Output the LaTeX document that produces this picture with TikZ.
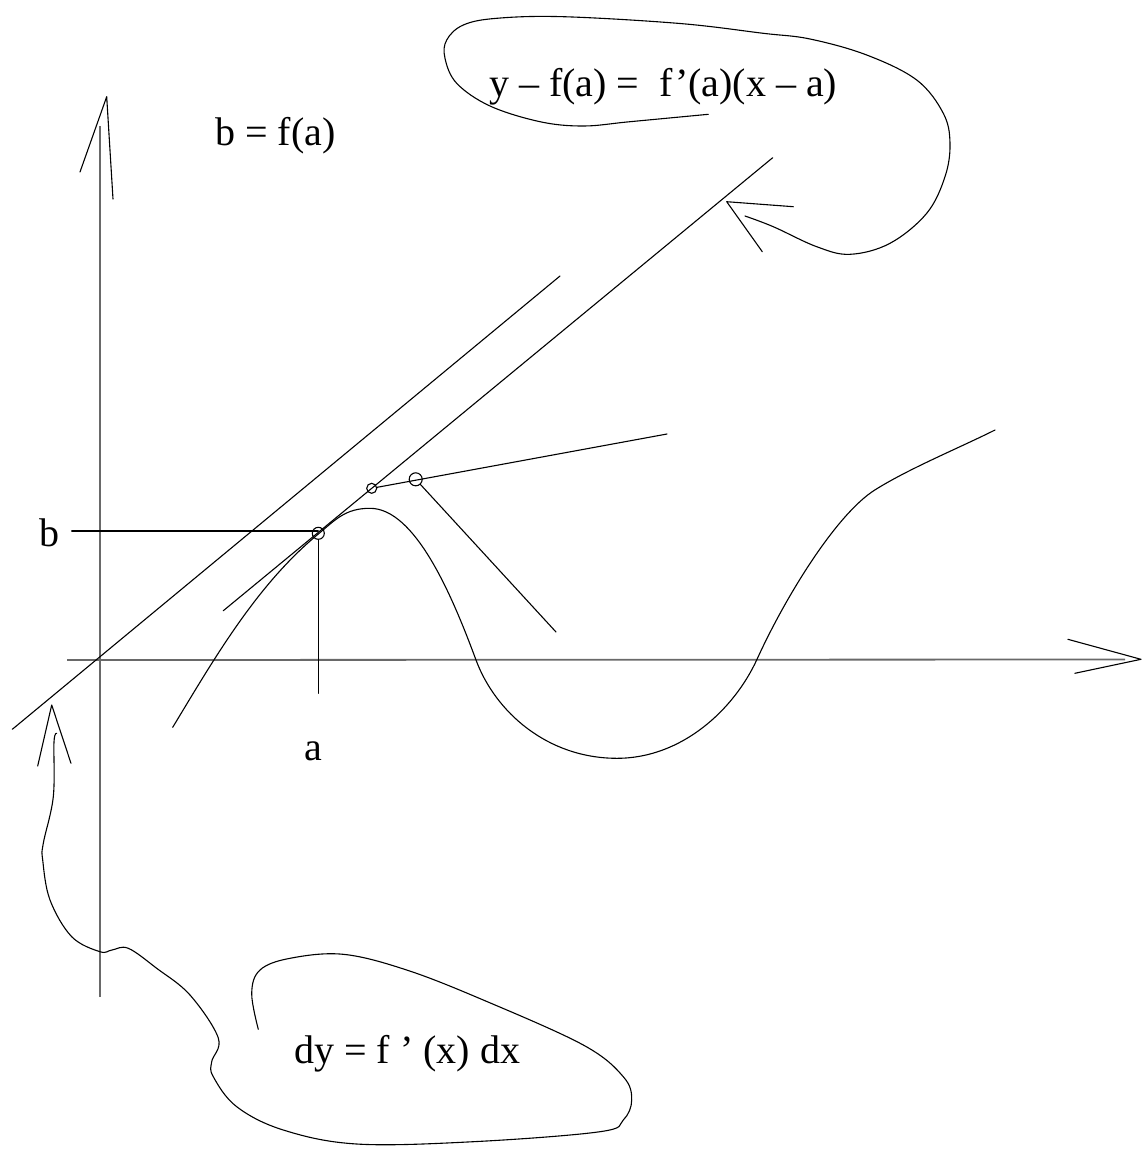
\documentclass[tikz,border=0pt]{standalone}
\usepackage{fontspec}
\setmainfont{Liberation Serif}
\begin{document}
\begin{tikzpicture}[x=1pt,y=-1pt,
  ink/.style={line width=1.1pt,black,line cap=round,line join=round},
  axisline/.style={line width=1.8pt,color={rgb,255:red,105;green,105;blue,105}},
  lbl/.style={inner sep=0pt,anchor=base west,font=\fontsize{40}{48}\selectfont},
  dot/.style={circle,draw,line width=1.1pt,inner sep=0pt,minimum size=#1}]
\useasboundingbox (0,0) rectangle (1144,1152);

% axes
\coordinate (ybot) at (100,997);
\coordinate (ytop) at (100,126);
\coordinate (xleft) at (67,660);
\coordinate (xtip) at (1141,659.3);
\draw[axisline] (ybot) -- (ytop);
\draw[axisline] (xleft) -- (1125,659.5);
% axis arrowheads (hand drawn)
\coordinate (yapex) at (106.7,96.7);
\draw[ink] (80,172) -- (yapex) -- (113,199);
\draw[ink] (1067.9,639.3) -- (xtip) -- (1074.8,673.3);

% the function curve
\coordinate (f0) at (172.7,727.3);
\coordinate (f1) at (318.3,534);
\coordinate (f2) at (370,508.3);
\coordinate (f3) at (476,660);
\coordinate (f4) at (617,758.3);
\coordinate (f5) at (757,659.3);
\coordinate (f6) at (874.8,490);
\coordinate (f7) at (995,430);
\draw[ink] (f0) .. controls (214.1,658.9) and (256.6,584.9) .. (f1)
  .. controls (335.3,520) and (345,508.3) .. (f2)
  .. controls (415,508.3) and (451.7,594.3) .. (f3)
  .. controls (495.1,711.6) and (547,758.3) .. (f4)
  .. controls (682,758.3) and (734.2,709.3) .. (f5)
  .. controls (786,595.6) and (836.7,514) .. (f6)
  .. controls (908.6,468.7) and (959.2,447.9) .. (f7);

% points
\node[dot=12pt] (pa) at (318.3,533.3) {};
\node[dot=10pt] (pq) at (371.7,488.3) {};
\node[dot=13pt] (pr) at (415.7,479.3) {};

% guide lines for a and b
\coordinate (bleft) at (71.7,531);
\coordinate (adown) at (318.3,693.3);
\draw[ink] (bleft) -- (318.3,531);
\draw[ink] (pa) -- (adown);

% parallel lines
\coordinate (t1a) at (12.3,729.3);
\coordinate (t1b) at (560,276);
\draw[ink] (t1a) -- (t1b);
\coordinate (t2a) at (223.3,610.7);
\coordinate (t2b) at (772.7,157.7);
\draw[ink] (t2a) -- (t2b);

% secant / normal lines
\coordinate (sq) at (667,434);
\coordinate (sr) at (556,632);
\draw[ink] (pq) -- (sq);
\draw[ink] (pr) -- (sr);

% labels
\node[lbl] (lb) at (39,546.7) {b};
\node[lbl,anchor=base] (la) at (313.3,760.7) {a};
\node[lbl] (lbfa) at (215,145.7) {b = f(a)};
\node[lbl] (leq) at (489,96.5) {y – f(a) =\ \ f’(a)(x – a)};
\node[lbl] (ldy) at (294,1063.3) {dy = f ’ (x) dx};

% top loop with arrow
\draw[ink] plot[smooth,tension=0.6] coordinates {(708.3,114.3) (630,121.7) (583.3,126) (540,121.7) (490,106) (456.7,83.3) (445,58.3) (446.7,40) (463.3,25) (496.7,18.3) (563.3,16.7) (680,23.5) (763.3,33.3) (810,39) (866.7,55) (916.7,80) (943.3,113.3) (950,143.3) (945,176.7) (926.7,213.3) (890,243.3) (850,254.3) (816.7,246.7) (773.3,226.7) (745,216)};
\coordinate (tapex) at (726.7,201.7);
\draw[ink] (793.3,206.7) -- (tapex) -- (762.3,251.7);

% bottom loop with arrow
\draw[ink] plot[smooth,tension=0.6] coordinates {(56.7,733.3) (54,742) (53.3,796.7) (43.3,843.3) (42.7,860) (50,900) (71.7,936.7) (100,951.7) (112,950) (128.3,948.3) (156.7,968.3) (190,995) (218.3,1038) (211.7,1061.7) (213.3,1076.7) (236.7,1106.7) (283.3,1130) (356.7,1144) (473.3,1141.7) (600,1131.7) (623.3,1120) (631.7,1100) (623.3,1076.7) (583.3,1045) (483.3,1000) (406.7,970) (343.3,954.3) (290,958.3) (260,970) (251.7,993.3) (258.3,1029.3)};
\coordinate (lapex) at (51.7,705);
\draw[ink] (37.7,766) -- (lapex) -- (71,763.3);
\end{tikzpicture}
\end{document}
